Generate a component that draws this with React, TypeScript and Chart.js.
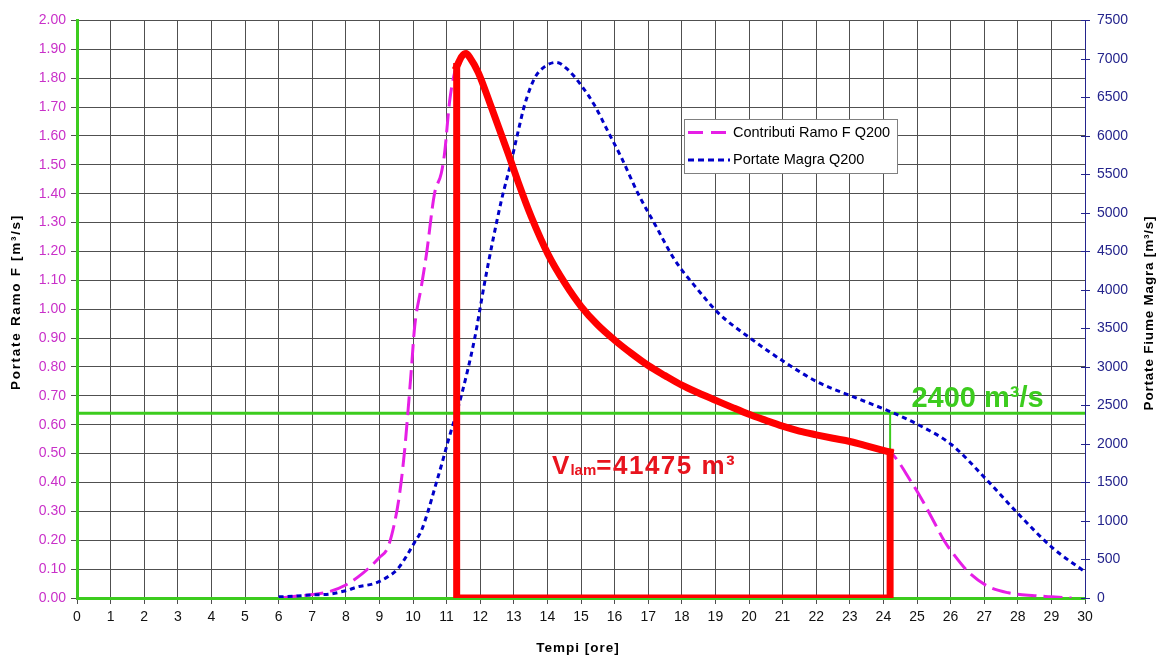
import React, { useEffect, useRef } from "react";
import { Chart, registerables } from "chart.js";

Chart.register(...registerables);

// ---- data ----
const CONTRIB_HOURS = [
  6.0, 6.5, 7.0, 7.5, 8.0, 8.5, 9.0, 9.25, 9.45, 9.6, 9.75, 9.85, 9.95, 10.05, 10.25, 10.4, 10.64, 10.84,
  10.94, 11.09, 11.24, 11.3, 11.45, 11.58, 11.7, 11.94, 12.33, 12.83, 13.13, 13.52, 14.02, 14.52, 15.0,
  15.5, 16.0, 16.5, 17.0, 17.5, 18.0, 18.5, 19.0, 19.5, 20.0, 20.5, 21.0, 21.5, 22.0, 22.5, 23.0, 23.5,
  24.2, 24.84, 25.2, 25.54, 25.8, 26.08, 26.53, 27.13, 27.72, 28.5, 29.0, 29.6,
];
const CONTRIB_VALUES = [
  0.0, 0.006, 0.012, 0.022, 0.045, 0.085, 0.14, 0.175, 0.26, 0.36, 0.51, 0.645, 0.79, 0.94, 1.08, 1.19, 1.4, 1.47,
  1.54, 1.72, 1.82, 1.84, 1.875, 1.885, 1.87, 1.82, 1.7, 1.54, 1.44, 1.32, 1.19, 1.09, 1.01,
  0.945, 0.893, 0.847, 0.805, 0.77, 0.737, 0.71, 0.685, 0.66, 0.636, 0.615, 0.595, 0.578, 0.565, 0.553, 0.542, 0.527,
  0.505, 0.4, 0.33, 0.256, 0.2, 0.153, 0.09, 0.039, 0.018, 0.008, 0.004, 0.0,
];
const MAGRA_HOURS = [
  6.0, 6.5, 7.0, 7.5, 8.0, 8.36, 8.86, 9.25, 9.55, 9.85, 10.05, 10.25, 10.45, 10.65, 10.85, 11.04, 11.44,
  11.83, 12.13, 12.38, 12.63, 12.93, 13.13, 13.32, 13.62, 13.92, 14.26, 14.61, 15.0, 15.4, 15.8, 16.2, 16.7,
  17.19, 17.79, 18.39, 19.09, 20.08, 21.07, 22.06, 23.06, 24.2, 25.04, 26.03, 27.02, 28.02, 29.01, 30.0,
];
const MAGRA_VALUES = [
  15, 25, 40, 50, 95, 145, 190, 275, 380, 575, 725, 875, 1130, 1430, 1730, 2030, 2630,
  3360, 4090, 4650, 5160, 5680, 6060, 6400, 6750, 6900, 6955, 6860, 6660, 6400, 6060, 5720, 5250,
  4860, 4390, 4050, 3700, 3360, 3060, 2800, 2620, 2420, 2250, 1990, 1560, 1090, 660, 340,
];
const WINDOW_START = 11.3;
const WINDOW_END = 24.2;
const THRESHOLD = 2400;
const X_MAX = 30;
const LEFT_MAX = 2;
const LEFT_STEP = 0.1;
const RIGHT_MAX = 7500;
const RIGHT_STEP = 500;
const LABEL_CONTRIB = "Contributi Ramo F Q200";
const LABEL_MAGRA = "Portate Magra Q200";
const LABEL_VOLUME = "Volume laminato";
const LABEL_THRESHOLD = "Soglia 2400 m³/s";
const TITLE_X = "Tempi [ore]";
const TITLE_LEFT = "Portate Ramo F [m³/s]";
const TITLE_RIGHT = "Portate Fiume Magra [m³/s]";
const THRESHOLD_TEXT = "2400 m³/s";
const VOL_MAIN = "V";
const VOL_SUB = "lam";
const VOL_REST = "=41475 m³";
const VOL_TEXT_AT = { x: 14.14, y: 0.43 };
const THRESHOLD_TEXT_X = 26.8;

// ---- styles ----
const FONT = "'Liberation Sans', Arial, sans-serif";
const MAGENTA = "#e61ee6";
const MAGENTA_TICK = "#c930c9";
const BLUE = "#0000c8";
const NAVY = "#24248c";
const RED = "#ff0000";
const GREEN = "#3ccc1e";
const GRID = "#505050";

const contribPts = CONTRIB_HOURS.map((h, i) => ({ x: h, y: CONTRIB_VALUES[i] }));
const magraPts = MAGRA_HOURS.map((h, i) => ({ x: h, y: MAGRA_VALUES[i] }));
const windowCurve = contribPts.filter((p) => p.x >= WINDOW_START && p.x <= WINDOW_END);
const startValue = windowCurve[0].y;
const endValue = windowCurve[windowCurve.length - 1].y;
const framePts = [
  { x: WINDOW_START, y: startValue },
  { x: WINDOW_START, y: 0 },
  { x: WINDOW_END, y: 0 },
  { x: WINDOW_END, y: endValue },
];
const thresholdLeft = (THRESHOLD / RIGHT_MAX) * LEFT_MAX;

const overlay = {
  id: "overlay",
  afterDraw(chart: any) {
    const ctx = chart.ctx as CanvasRenderingContext2D;
    const xs = chart.scales.x;
    const ys = chart.scales.y;
    const y1 = chart.scales.y1;
    const area = chart.chartArea;
    ctx.save();
    // right axis crossing ticks
    ctx.strokeStyle = NAVY;
    ctx.lineWidth = 1;
    y1.ticks.forEach((_t: any, i: number) => {
      const py = Math.round(y1.getPixelForTick(i)) + 0.5;
      ctx.beginPath();
      ctx.moveTo(area.right - 4, py);
      ctx.lineTo(area.right + 5, py);
      ctx.stroke();
    });
    // titles
    ctx.fillStyle = "#000";
    ctx.textAlign = "center";
    ctx.textBaseline = "middle";
    ctx.font = `bold 13.5px ${FONT}`;
    const midY = (area.top + area.bottom) / 2;
    (ctx as any).letterSpacing = "1.7px";
    ctx.save();
    ctx.translate(16, 302);
    ctx.rotate(-Math.PI / 2);
    ctx.fillText(TITLE_LEFT, 0, 0);
    ctx.restore();
    (ctx as any).letterSpacing = "0.8px";
    ctx.save();
    ctx.translate(1149, 313);
    ctx.rotate(-Math.PI / 2);
    ctx.fillText(TITLE_RIGHT, 0, 0);
    ctx.restore();
    (ctx as any).letterSpacing = "1px";
    ctx.fillText(TITLE_X, (area.left + area.right) / 2 - 3, 648);
    (ctx as any).letterSpacing = "0px";

    // threshold text
    ctx.fillStyle = GREEN;
    ctx.font = `bold 29px ${FONT}`;
    ctx.textAlign = "center";
    ctx.textBaseline = "alphabetic";
    ctx.fillText(THRESHOLD_TEXT, xs.getPixelForValue(THRESHOLD_TEXT_X), y1.getPixelForValue(THRESHOLD) - 6);

    // volume text
    ctx.fillStyle = "#e8141e";
    ctx.textAlign = "left";
    let px = xs.getPixelForValue(VOL_TEXT_AT.x);
    const base = ys.getPixelForValue(VOL_TEXT_AT.y);
    ctx.font = `bold 26px ${FONT}`;
    ctx.fillText(VOL_MAIN, px, base);
    px += ctx.measureText(VOL_MAIN).width + 1;
    ctx.font = `bold 15px ${FONT}`;
    ctx.fillText(VOL_SUB, px, base + 1);
    px += ctx.measureText(VOL_SUB).width;
    ctx.font = `bold 26px ${FONT}`;
    (ctx as any).letterSpacing = "1.5px";
    ctx.fillText(VOL_REST, px, base);
    (ctx as any).letterSpacing = "0px";

    // legend
    const lx = 684, ly = 119, lw = 213, lh = 54;
    ctx.fillStyle = "#fff";
    ctx.fillRect(lx, ly, lw, lh);
    ctx.strokeStyle = "#808080";
    ctx.lineWidth = 1;
    ctx.strokeRect(lx + 0.5, ly + 0.5, lw, lh);
    const rows = [
      { label: LABEL_CONTRIB, color: MAGENTA, dash: [15, 8], y: ly + 13.5 },
      { label: LABEL_MAGRA, color: BLUE, dash: [6, 4], y: ly + 41 },
    ];
    rows.forEach((r) => {
      ctx.strokeStyle = r.color;
      ctx.lineWidth = 3;
      ctx.setLineDash(r.dash);
      ctx.beginPath();
      ctx.moveTo(lx + 4, r.y);
      ctx.lineTo(lx + 46, r.y);
      ctx.stroke();
      ctx.setLineDash([]);
      ctx.fillStyle = "#000";
      ctx.font = `14.5px ${FONT}`;
      ctx.textBaseline = "middle";
      ctx.fillText(r.label, lx + 49, r.y);
    });
    ctx.restore();
  },
};

export default function App() {
  const ref = useRef<HTMLCanvasElement | null>(null);
  useEffect(() => {
    if (!ref.current) return;
    const chart = new Chart(ref.current, {
      type: "line",
      data: {
        datasets: [
          {
            label: LABEL_VOLUME,
            data: windowCurve,
            yAxisID: "y",
            borderColor: RED,
            borderWidth: 7,
            pointRadius: 0,
            cubicInterpolationMode: "monotone",
            borderCapStyle: "square",
            fill: false,
            order: 0,
          },
          {
            label: LABEL_VOLUME + " (base)",
            data: framePts,
            yAxisID: "y",
            borderColor: RED,
            borderWidth: 7,
            pointRadius: 0,
            tension: 0.0001,
            borderJoinStyle: "miter",
            borderCapStyle: "square",
            fill: false,
            order: 0,
          },
          {
            label: LABEL_MAGRA,
            data: magraPts,
            yAxisID: "y1",
            borderColor: BLUE,
            borderWidth: 3,
            borderDash: [5, 4],
            pointRadius: 0,
            cubicInterpolationMode: "monotone",
            fill: false,
            order: 1,
          },
          {
            label: LABEL_CONTRIB,
            data: contribPts,
            yAxisID: "y",
            borderColor: MAGENTA,
            borderWidth: 3,
            borderDash: [19, 7],
            pointRadius: 0,
            cubicInterpolationMode: "monotone",
            fill: false,
            order: 2,
          },
          {
            label: LABEL_THRESHOLD,
            data: [
              { x: 0, y: THRESHOLD },
              { x: X_MAX, y: THRESHOLD },
            ],
            yAxisID: "y1",
            borderColor: GREEN,
            borderWidth: 3,
            pointRadius: 0,
            fill: false,
            order: 3,
          },
          {
            label: "link",
            data: [
              { x: WINDOW_END, y: endValue },
              { x: WINDOW_END, y: thresholdLeft },
            ],
            yAxisID: "y",
            borderColor: GREEN,
            borderWidth: 2,
            pointRadius: 0,
            fill: false,
            order: 4,
          },
        ],
      },
      options: {
        animation: false,
        responsive: true,
        maintainAspectRatio: false,
        layout: { padding: { top: 15, left: 0, right: 0, bottom: 0 } },
        plugins: { legend: { display: false }, tooltip: { enabled: false }, title: { display: false } },
        font: { family: FONT },
        scales: {
          x: {
            type: "linear",
            min: 0,
            max: X_MAX,
            afterFit: (s: any) => {
              s.height = 61;
            },
            ticks: { stepSize: 1, color: "#111", font: { family: FONT, size: 14 }, padding: 5, maxRotation: 0, autoSkip: false },
            grid: { color: GRID, lineWidth: 1, tickLength: 6, tickColor: GRID },
            border: { color: GREEN, width: 3 },
          },
          y: {
            type: "linear",
            position: "left",
            min: 0,
            max: LEFT_MAX,
            afterFit: (s: any) => {
              s.width = 77;
            },
            ticks: {
              stepSize: LEFT_STEP,
              color: MAGENTA_TICK,
              font: { family: FONT, size: 14 },
              padding: 5,
              callback: (v: any) => Number(v).toFixed(2),
            },
            grid: { color: GRID, lineWidth: 1, tickLength: 6, tickColor: GRID },
            border: { color: GREEN, width: 3 },
          },
          y1: {
            type: "linear",
            position: "right",
            min: 0,
            max: RIGHT_MAX,
            afterFit: (s: any) => {
              s.width = 74;
            },
            ticks: {
              stepSize: RIGHT_STEP,
              color: NAVY,
              font: { family: FONT, size: 14 },
              padding: 12,
              callback: (v: any) => String(Math.round(Number(v))),
            },
            grid: { drawOnChartArea: false, drawTicks: false },
            border: { color: NAVY, width: 1 },
          },
        },
      },
      plugins: [overlay],
    } as any);
    return () => chart.destroy();
  }, []);
  return (
    <div style={{ position: "fixed", left: 0, top: 0, width: 1159, height: 659, background: "#fff" }}>
      <canvas ref={ref} />
    </div>
  );
}
